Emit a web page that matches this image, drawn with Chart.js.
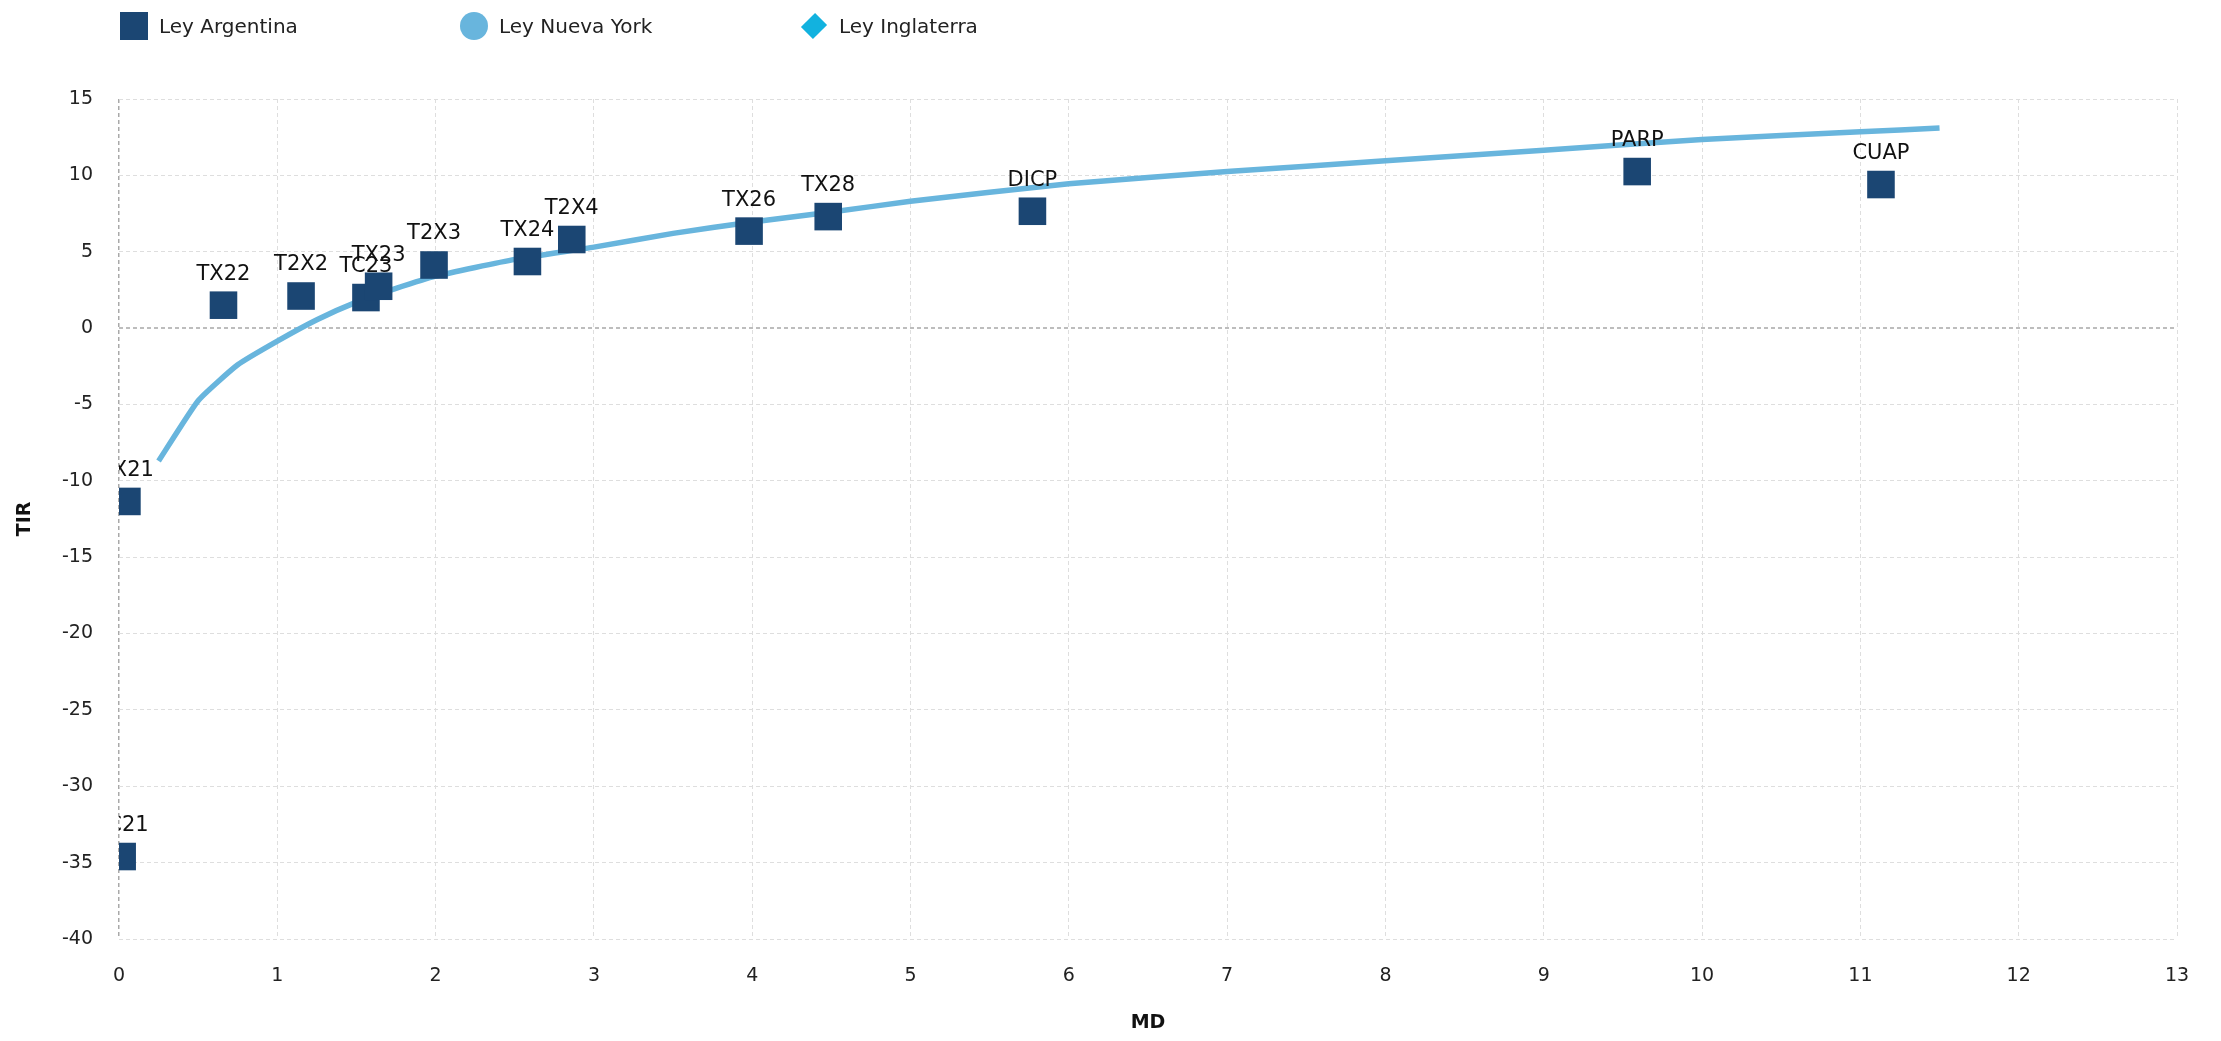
<!DOCTYPE html>
<html>
<head>
<meta charset="utf-8">
<script src="https://cdn.jsdelivr.net/npm/chart.js@4.4.1/dist/chart.umd.min.js"></script>
<style>
  html, body { margin: 0; padding: 0; background: #ffffff; }
  #wrap { position: relative; width: 2221px; height: 1041px; }
  #legend { position: absolute; top: 0; left: 0; width: 2221px; height: 50px; font-family: "DejaVu Sans", Verdana, sans-serif; font-size: 20px; color: #222; }
  .item { position: absolute; top: 12px; height: 28px; display: flex; align-items: center; }
  .mk { width: 28px; height: 28px; margin-right: 11px; box-sizing: border-box; }
</style>
</head>
<body>
<div id="wrap">
  <canvas id="c" width="2221" height="1041"></canvas>
  <div id="legend"></div>
</div>
<script>
// ---- data ----
const seriesNames = ['Ley Argentina', 'Ley Nueva York', 'Ley Inglaterra'];
const seriesColors = ['#1b4673', '#68b5dd', '#12b2df'];

const bondNames = ['TC21', 'TX21', 'TX22', 'T2X2', 'TC23', 'TX23', 'T2X3', 'TX24', 'T2X4', 'TX26', 'TX28', 'DICP', 'PARP', 'CUAP'];
const bondMD    = [0.02, 0.05, 0.66, 1.15, 1.56, 1.64, 1.99, 2.58, 2.86, 3.98, 4.48, 5.77, 9.59, 11.13];
const bondTIR   = [-34.6, -11.35, 1.5, 2.1, 2.0, 2.74, 4.13, 4.36, 5.8, 6.35, 7.3, 7.65, 10.25, 9.4];

const curveMD  = [0.25, 0.5, 0.75, 1.0, 1.25, 1.5, 1.75, 2.0, 2.5, 3.0, 3.5, 4.0, 4.5, 5.0, 6.0, 7.0, 8.0, 9.0, 10.0, 11.0, 11.5];
const curveTIR = [-8.7, -4.75, -2.4, -0.85, 0.55, 1.7, 2.6, 3.4, 4.5, 5.3, 6.2, 6.95, 7.6, 8.3, 9.45, 10.25, 10.95, 11.65, 12.35, 12.85, 13.1];

const inglaterraMD = [];
const inglaterraTIR = [];

const xTitle = 'MD';
const yTitle = 'TIR';

// ---- build ----
const pts = (xs, ys) => xs.map((x, i) => ({ x: x, y: ys[i] }));

const labelPlugin = {
  id: 'bondLabels',
  afterDatasetsDraw(chart) {
    const ctx = chart.ctx;
    const a = chart.chartArea;
    const meta = chart.getDatasetMeta(0);
    ctx.save();
    ctx.beginPath();
    ctx.rect(a.left, a.top - 40, a.right - a.left, a.bottom - a.top + 40);
    ctx.clip();
    ctx.font = '21px "DejaVu Sans", Verdana, sans-serif';
    ctx.textAlign = 'center';
    ctx.textBaseline = 'middle';
    ctx.fillStyle = '#111111';
    meta.data.forEach((p, i) => {
      ctx.fillText(bondNames[i], p.x, p.y - 31);
    });
    ctx.restore();
  }
};

const fontFam = '"DejaVu Sans", Verdana, sans-serif';

const chart = new Chart(document.getElementById('c'), {
  type: 'scatter',
  data: {
    datasets: [
      {
        label: seriesNames[0],
        data: pts(bondMD, bondTIR),
        backgroundColor: seriesColors[0],
        borderColor: seriesColors[0],
        borderWidth: 0,
        pointStyle: 'rect',
        pointRadius: 19.5,
        pointHoverRadius: 19.5,
        clip: 0
      },
      {
        label: seriesNames[1],
        data: pts(curveMD, curveTIR),
        showLine: true,
        borderColor: seriesColors[1],
        backgroundColor: seriesColors[1],
        borderWidth: 5.5,
        pointRadius: 0,
        pointHoverRadius: 0,
        tension: 0.15,
        pointStyle: 'circle',
        clip: 0
      },
      {
        label: seriesNames[2],
        data: pts(inglaterraMD, inglaterraTIR),
        backgroundColor: seriesColors[2],
        borderColor: seriesColors[2],
        pointStyle: 'rectRot',
        pointRadius: 14,
        clip: 0
      }
    ]
  },
  options: {
    responsive: false,
    animation: false,
    devicePixelRatio: 1,
    layout: { padding: { top: 99, right: 44, bottom: 0, left: 0 } },
    plugins: {
      legend: { display: false },
      tooltip: { enabled: false }
    },
    scales: {
      x: {
        type: 'linear',
        min: 0,
        max: 13,
        afterFit(s) { s.height = 102; },
        ticks: { stepSize: 1, padding: 26, color: '#222', font: { family: fontFam, size: 19 } },
        grid: {
          drawTicks: false,
          color: (c) => (c.tick && c.tick.value === 0) ? '#a9a9a9' : '#dedede',
          lineWidth: (c) => (c.tick && c.tick.value === 0) ? 1.5 : 1
        },
        border: { display: false, dash: [4, 3] },
        title: { display: true, text: xTitle, color: '#111', font: { family: fontFam, size: 19, weight: 'bold' }, padding: { top: 0, bottom: 7 } }
      },
      y: {
        type: 'linear',
        min: -40,
        max: 15,
        afterFit(s) { s.width = 119; },
        ticks: { stepSize: 5, padding: 26, color: '#222', font: { family: fontFam, size: 19 } },
        grid: {
          drawTicks: false,
          color: (c) => (c.tick && c.tick.value === 0) ? '#bdbdbd' : '#dedede',
          lineWidth: (c) => (c.tick && c.tick.value === 0) ? 2 : 1
        },
        border: { display: false, dash: [4, 3] },
        title: { display: true, text: yTitle, color: '#111', font: { family: fontFam, size: 19, weight: 'bold' }, padding: { top: 14, bottom: 0 } }
      }
    }
  },
  plugins: [labelPlugin]
});

// ---- HTML legend built from the chart's datasets ----
const legendLeft = [120, 460, 800];
const legendEl = document.getElementById('legend');
chart.data.datasets.forEach((ds, i) => {
  const item = document.createElement('div');
  item.className = 'item';
  item.style.left = legendLeft[i] + 'px';
  const mk = document.createElement('span');
  mk.className = 'mk';
  mk.style.background = ds.backgroundColor;
  if (ds.pointStyle === 'circle') mk.style.borderRadius = '50%';
  if (ds.pointStyle === 'rectRot') { mk.style.width = '20px'; mk.style.height = '20px'; mk.style.transform = 'rotate(45deg) scaleX(0.85)'; mk.style.marginLeft = '4px'; mk.style.marginRight = '15px'; }
  const tx = document.createElement('span');
  tx.textContent = ds.label;
  item.appendChild(mk);
  item.appendChild(tx);
  legendEl.appendChild(item);
});
</script>
</body>
</html>
